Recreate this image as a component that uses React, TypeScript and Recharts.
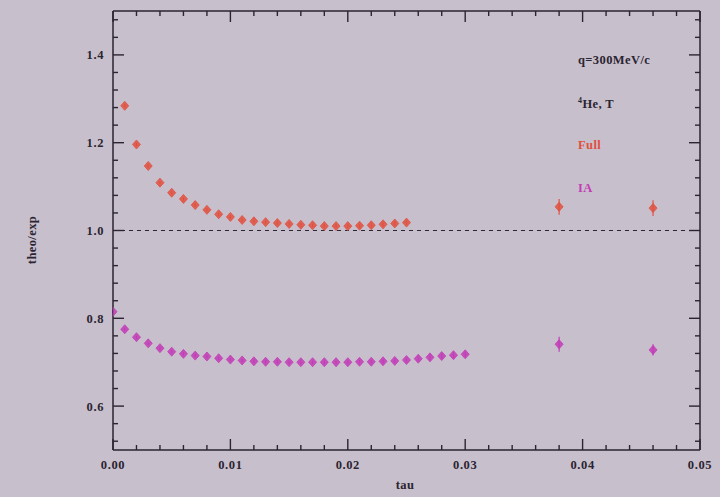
import React from "react";
import {
  ErrorBar,
  ReferenceLine,
  Scatter,
  ScatterChart,
  XAxis,
  YAxis,
} from "recharts";

// tau values for the two series
const fullTau = [
  0.001, 0.002, 0.003, 0.004, 0.005, 0.006, 0.007, 0.008, 0.009, 0.01, 0.011,
  0.012, 0.013, 0.014, 0.015, 0.016, 0.017, 0.018, 0.019, 0.02, 0.021, 0.022,
  0.023, 0.024, 0.025, 0.038, 0.046,
];
const fullRatio = [
  1.284, 1.196, 1.147, 1.109, 1.086, 1.072, 1.058, 1.047, 1.037, 1.031, 1.024,
  1.021, 1.019, 1.017, 1.015, 1.013, 1.012, 1.01, 1.01, 1.01, 1.011, 1.012,
  1.014, 1.016, 1.018, 1.054, 1.051,
];
const fullErr = [
  0.004, 0.004, 0.004, 0.004, 0.004, 0.004, 0.004, 0.004, 0.004, 0.004, 0.004,
  0.004, 0.004, 0.004, 0.004, 0.004, 0.004, 0.004, 0.004, 0.004, 0.005, 0.005,
  0.005, 0.005, 0.005, 0.018, 0.018,
];

const iaTau = [
  0.0, 0.001, 0.002, 0.003, 0.004, 0.005, 0.006, 0.007, 0.008, 0.009, 0.01,
  0.011, 0.012, 0.013, 0.014, 0.015, 0.016, 0.017, 0.018, 0.019, 0.02, 0.021,
  0.022, 0.023, 0.024, 0.025, 0.026, 0.027, 0.028, 0.029, 0.03, 0.038, 0.046,
];
const iaRatio = [
  0.815, 0.775, 0.757, 0.743, 0.732, 0.724, 0.719, 0.715, 0.713, 0.709, 0.706,
  0.704, 0.702, 0.701, 0.701, 0.7, 0.7, 0.7, 0.7, 0.7, 0.7, 0.701,
  0.701, 0.702, 0.703, 0.705, 0.708, 0.711, 0.714, 0.716, 0.718, 0.741, 0.728,
];
const iaErr = [
  0.004, 0.004, 0.004, 0.004, 0.004, 0.004, 0.004, 0.004, 0.004, 0.004, 0.004,
  0.004, 0.004, 0.004, 0.004, 0.004, 0.004, 0.004, 0.004, 0.004, 0.004, 0.004,
  0.004, 0.005, 0.005, 0.005, 0.005, 0.006, 0.006, 0.006, 0.006, 0.017, 0.013,
];

const xMajorLabels = ["0.00", "0.01", "0.02", "0.03", "0.04", "0.05"];
const yMajorLabels = ["0.6", "0.8", "1.0", "1.2", "1.4"];

const xTicks = Array.from({ length: 26 }, (_, i) => (i * 2) / 1000);
const yTicks = Array.from({ length: 25 }, (_, i) => (52 + i * 4) / 100);

const fullData = fullTau.map((t, i) => ({ tau: t, r: fullRatio[i], err: fullErr[i] }));
const iaData = iaTau.map((t, i) => ({ tau: t, r: iaRatio[i], err: iaErr[i] }));

const BG = "#c8bfcd";
const INK = "#2a2530";
const FULL = "#e0503e";
const IA = "#c23cb6";
const FONT = "'Liberation Serif', serif";

const xLabel = (v: number) => {
  const idx = Math.round(v * 100);
  return Math.abs(v * 100 - idx) < 1e-6 ? xMajorLabels[idx] : null;
};
const yLabel = (v: number) => {
  const k = Math.round((v - 0.6) * 10);
  if (Math.abs((v - 0.6) * 10 - k) < 1e-6 && k % 2 === 0) return yMajorLabels[k / 2] ?? null;
  return null;
};

const BottomTick = (props: any) => {
  const { x, y, payload } = props;
  const lab = xLabel(payload.value);
  return (
    <g>
      <line x1={x} x2={x} y1={y} y2={y - (lab ? 11 : 5)} stroke={INK} strokeWidth={1.4} />
      {lab && (
        <text x={x} y={y + 19} textAnchor="middle" fontSize={12.5} fontWeight="bold" letterSpacing={0.6} fill={INK} fontFamily={FONT}>
          {lab}
        </text>
      )}
    </g>
  );
};
const TopTick = (props: any) => {
  const { x, y, payload } = props;
  const lab = xLabel(payload.value);
  return (
    <g>
      <line x1={x} x2={x} y1={y} y2={y + (lab ? 11 : 5)} stroke={INK} strokeWidth={1.4} />
    </g>
  );
};
const LeftTick = (props: any) => {
  const { x, y, payload } = props;
  const lab = yLabel(payload.value);
  return (
    <g>
      <line x1={x} x2={x + (lab ? 11 : 5)} y1={y} y2={y} stroke={INK} strokeWidth={1.4} />
      {lab && (
        <text x={x - 9} y={y + 4.5} textAnchor="end" fontSize={12.5} fontWeight="bold" letterSpacing={0.6} fill={INK} fontFamily={FONT}>
          {lab}
        </text>
      )}
    </g>
  );
};
const RightTick = (props: any) => {
  const { x, y, payload } = props;
  const lab = yLabel(payload.value);
  return (
    <g>
      <line x1={x} x2={x - (lab ? 11 : 5)} y1={y} y2={y} stroke={INK} strokeWidth={1.4} />
    </g>
  );
};

const marker = (color: string) => (props: any) => {
  const { cx, cy } = props;
  return (
    <path
      d={`M${cx},${cy - 4.5}L${cx + 4},${cy}L${cx},${cy + 4.5}L${cx - 4},${cy}Z`}
      fill={color}
      fillOpacity={0.85}
      stroke={color}
      strokeWidth={0.8}
    />
  );
};

const noteStyle: React.CSSProperties = {
  position: "absolute",
  fontFamily: FONT,
  fontWeight: "bold",
  fontSize: 12.5,
  letterSpacing: 0.4,
  lineHeight: "13px",
  whiteSpace: "nowrap",
};

export default function App() {
  return (
    <div style={{ position: "absolute", left: 0, top: 0, width: 720, height: 497, background: BG }}>
      <ScatterChart width={720} height={497} margin={{ top: 10, right: 19, bottom: 0, left: 0 }}>
        <XAxis
          xAxisId="b"
          type="number"
          dataKey="tau"
          orientation="bottom"
          domain={[0, 0.05]}
          allowDataOverflow
          ticks={xTicks}
          interval={0}
          height={47}
          tickSize={0}
          tickMargin={0}
          tickLine={false}
          tick={<BottomTick />}
          axisLine={{ stroke: INK, strokeWidth: 1.5 }}
        />
        <XAxis
          xAxisId="t"
          type="number"
          dataKey="tau"
          orientation="top"
          domain={[0, 0.05]}
          allowDataOverflow
          ticks={xTicks}
          interval={0}
          height={1}
          tickSize={0}
          tickMargin={0}
          tickLine={false}
          tick={<TopTick />}
          axisLine={{ stroke: INK, strokeWidth: 1.5 }}
        />
        <YAxis
          yAxisId="l"
          type="number"
          dataKey="r"
          orientation="left"
          domain={[0.5, 1.5]}
          allowDataOverflow
          ticks={yTicks}
          interval={0}
          width={113}
          tickSize={0}
          tickMargin={0}
          tickLine={false}
          tick={<LeftTick />}
          axisLine={{ stroke: INK, strokeWidth: 1.5 }}
        />
        <YAxis
          yAxisId="r"
          type="number"
          dataKey="r"
          orientation="right"
          domain={[0.5, 1.5]}
          allowDataOverflow
          ticks={yTicks}
          interval={0}
          width={1}
          tickSize={0}
          tickMargin={0}
          tickLine={false}
          tick={<RightTick />}
          axisLine={{ stroke: INK, strokeWidth: 1.5 }}
        />
        <ReferenceLine xAxisId="b" yAxisId="l" y={1} stroke={INK} strokeWidth={1.2} strokeDasharray="4 4" />
        <Scatter
          name="Full"
          data={fullData}
          xAxisId="b"
          yAxisId="l"
          shape={marker(FULL)}
          isAnimationActive={false}
        >
          <ErrorBar dataKey="err" direction="y" width={0} stroke={FULL} strokeWidth={1.2} />
        </Scatter>
        <Scatter
          name="IA"
          data={iaData}
          xAxisId="t"
          yAxisId="r"
          shape={marker(IA)}
          isAnimationActive={false}
        >
          <ErrorBar dataKey="err" direction="y" width={0} stroke={IA} strokeWidth={1.2} />
        </Scatter>
      </ScatterChart>
      <div style={{ ...noteStyle, left: 578, top: 54, color: INK }}>q=300MeV/c</div>
      <div style={{ ...noteStyle, left: 578, top: 94, color: INK }}>
        <sup style={{ fontSize: 8 }}>4</sup>He, T
      </div>
      <div style={{ ...noteStyle, left: 578, top: 139, color: FULL }}>Full</div>
      <div style={{ ...noteStyle, left: 578, top: 182, color: IA }}>IA</div>
      <div
        style={{
          ...noteStyle,
          left: 32,
          top: 240,
          color: INK,
          transform: "translate(-50%, -50%) rotate(-90deg)",
        }}
      >
        theo/exp
      </div>
      <div style={{ ...noteStyle, left: 405, top: 479, color: INK, transform: "translateX(-50%)" }}>tau</div>
    </div>
  );
}
